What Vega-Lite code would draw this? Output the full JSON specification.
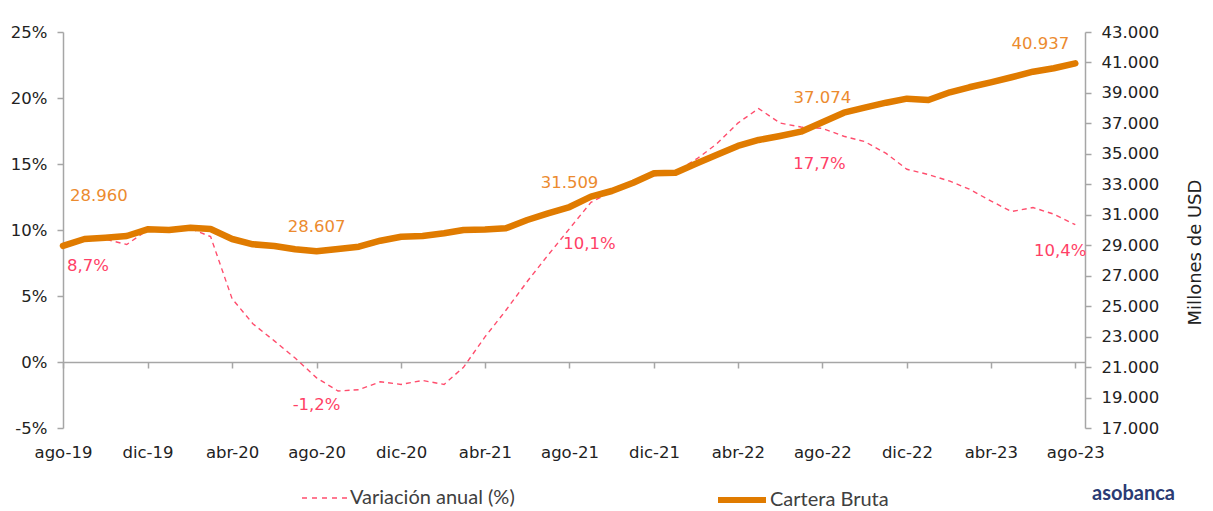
{
  "$schema": "https://vega.github.io/schema/vega-lite/v6.json",
  "width": 1022,
  "height": 396,
  "autosize": {"type": "none"},
  "padding": {"left": 63, "top": 32, "right": 128, "bottom": 83},
  "background": "white",
  "config": {
    "view": {"stroke": null},
    "font": "DejaVu Sans",
    "locale": {
      "number": {"decimal": ",", "thousands": ".", "grouping": [3], "currency": ["$", ""], "minus": "-"},
      "time": {
        "dateTime": "%A, %e de %B de %Y, %X",
        "date": "%d/%m/%Y",
        "time": "%H:%M:%S",
        "periods": ["AM", "PM"],
        "days": ["domingo", "lunes", "martes", "miércoles", "jueves", "viernes", "sábado"],
        "shortDays": ["dom", "lun", "mar", "mié", "jue", "vie", "sáb"],
        "months": ["enero", "febrero", "marzo", "abril", "mayo", "junio", "julio", "agosto", "septiembre", "octubre", "noviembre", "diciembre"],
        "shortMonths": ["ene", "feb", "mar", "abr", "may", "jun", "jul", "ago", "sep", "oct", "nov", "dic"]
      }
    }
  },
  "title": {
    "text": "asobanca",
    "orient": "bottom",
    "anchor": "end",
    "frame": "group",
    "font": "Lato",
    "fontSize": 20,
    "fontWeight": "bold",
    "color": "#2B3B73",
    "dx": 90,
    "dy": -32
  },
  "data": {
    "values": [
      {"fecha": "2019-08-01", "variacion": 0.087, "cartera": 28960},
      {"fecha": "2019-09-01", "variacion": 0.092, "cartera": 29410},
      {"fecha": "2019-10-01", "variacion": 0.093, "cartera": 29495},
      {"fecha": "2019-11-01", "variacion": 0.089, "cartera": 29607},
      {"fecha": "2019-12-01", "variacion": 0.100, "cartera": 30047},
      {"fecha": "2020-01-01", "variacion": 0.100, "cartera": 30001},
      {"fecha": "2020-02-01", "variacion": 0.101, "cartera": 30152},
      {"fecha": "2020-03-01", "variacion": 0.095, "cartera": 30066},
      {"fecha": "2020-04-01", "variacion": 0.048, "cartera": 29410},
      {"fecha": "2020-05-01", "variacion": 0.029, "cartera": 29062},
      {"fecha": "2020-06-01", "variacion": 0.016, "cartera": 28950},
      {"fecha": "2020-07-01", "variacion": 0.003, "cartera": 28733},
      {"fecha": "2020-08-01", "variacion": -0.012, "cartera": 28607},
      {"fecha": "2020-09-01", "variacion": -0.022, "cartera": 28753},
      {"fecha": "2020-10-01", "variacion": -0.021, "cartera": 28904},
      {"fecha": "2020-11-01", "variacion": -0.015, "cartera": 29298},
      {"fecha": "2020-12-01", "variacion": -0.017, "cartera": 29561},
      {"fecha": "2021-01-01", "variacion": -0.014, "cartera": 29607},
      {"fecha": "2021-02-01", "variacion": -0.017, "cartera": 29784},
      {"fecha": "2021-03-01", "variacion": -0.004, "cartera": 30001},
      {"fecha": "2021-04-01", "variacion": 0.019, "cartera": 30030},
      {"fecha": "2021-05-01", "variacion": 0.039, "cartera": 30112},
      {"fecha": "2021-06-01", "variacion": 0.061, "cartera": 30657},
      {"fecha": "2021-07-01", "variacion": 0.081, "cartera": 31097},
      {"fecha": "2021-08-01", "variacion": 0.101, "cartera": 31509},
      {"fecha": "2021-09-01", "variacion": 0.121, "cartera": 32187},
      {"fecha": "2021-10-01", "variacion": 0.129, "cartera": 32561},
      {"fecha": "2021-11-01", "variacion": 0.136, "cartera": 33106},
      {"fecha": "2021-12-01", "variacion": 0.141, "cartera": 33724},
      {"fecha": "2022-01-01", "variacion": 0.144, "cartera": 33763},
      {"fecha": "2022-02-01", "variacion": 0.154, "cartera": 34380},
      {"fecha": "2022-03-01", "variacion": 0.165, "cartera": 34925},
      {"fecha": "2022-04-01", "variacion": 0.181, "cartera": 35516},
      {"fecha": "2022-05-01", "variacion": 0.192, "cartera": 35910},
      {"fecha": "2022-06-01", "variacion": 0.181, "cartera": 36173},
      {"fecha": "2022-07-01", "variacion": 0.178, "cartera": 36455},
      {"fecha": "2022-08-01", "variacion": 0.177, "cartera": 37074},
      {"fecha": "2022-09-01", "variacion": 0.171, "cartera": 37703},
      {"fecha": "2022-10-01", "variacion": 0.167, "cartera": 38031},
      {"fecha": "2022-11-01", "variacion": 0.158, "cartera": 38359},
      {"fecha": "2022-12-01", "variacion": 0.146, "cartera": 38622},
      {"fecha": "2023-01-01", "variacion": 0.142, "cartera": 38536},
      {"fecha": "2023-02-01", "variacion": 0.137, "cartera": 39042},
      {"fecha": "2023-03-01", "variacion": 0.131, "cartera": 39370},
      {"fecha": "2023-04-01", "variacion": 0.122, "cartera": 39698},
      {"fecha": "2023-05-01", "variacion": 0.114, "cartera": 40027},
      {"fecha": "2023-06-01", "variacion": 0.117, "cartera": 40395},
      {"fecha": "2023-07-01", "variacion": 0.112, "cartera": 40618},
      {"fecha": "2023-08-01", "variacion": 0.104, "cartera": 40937}
    ]
  },
  "encoding": {
    "x": {
      "field": "fecha",
      "type": "temporal",
      "scale": {
        "type": "utc",
        "domain": [
          {"year": 2019, "month": 8, "date": 1, "utc": true},
          {"year": 2023, "month": 8, "date": 15, "utc": true}
        ]
      },
      "axis": null
    }
  },
  "layer": [
    {
      "mark": {"type": "line", "strokeWidth": 1.4, "strokeDash": [5, 4]},
      "encoding": {
        "x": {
          "field": "fecha",
          "type": "temporal",
          "axis": {
            "orient": "bottom",
            "offset": -66,
            "values": [
              {"year": 2019, "month": 8, "date": 1, "utc": true},
              {"year": 2019, "month": 12, "date": 1, "utc": true},
              {"year": 2020, "month": 4, "date": 1, "utc": true},
              {"year": 2020, "month": 8, "date": 1, "utc": true},
              {"year": 2020, "month": 12, "date": 1, "utc": true},
              {"year": 2021, "month": 4, "date": 1, "utc": true},
              {"year": 2021, "month": 8, "date": 1, "utc": true},
              {"year": 2021, "month": 12, "date": 1, "utc": true},
              {"year": 2022, "month": 4, "date": 1, "utc": true},
              {"year": 2022, "month": 8, "date": 1, "utc": true},
              {"year": 2022, "month": 12, "date": 1, "utc": true},
              {"year": 2023, "month": 4, "date": 1, "utc": true},
              {"year": 2023, "month": 8, "date": 1, "utc": true}
            ],
            "labels": false,
            "grid": false,
            "title": null,
            "domain": true,
            "domainColor": "#a6a6a6",
            "domainWidth": 1.5,
            "ticks": true,
            "tickSize": 6,
            "tickColor": "#a6a6a6",
            "tickWidth": 1.5
          }
        },
        "y": {
          "field": "variacion",
          "type": "quantitative",
          "scale": {"domain": [-0.05, 0.25], "nice": false, "zero": false},
          "axis": {
            "orient": "left",
            "values": [-0.05, 0, 0.05, 0.1, 0.15, 0.2, 0.25],
            "format": ".0%",
            "grid": false,
            "title": null,
            "domainColor": "#a6a6a6",
            "domainWidth": 1.5,
            "tickColor": "#a6a6a6",
            "tickWidth": 1.5,
            "tickSize": 6,
            "labelPadding": 10,
            "labelFontSize": 16.5,
            "labelColor": "#222222"
          }
        },
        "color": {
          "datum": "Variación anual (%)",
          "scale": {"domain": ["Variación anual (%)"], "range": ["#FF4D6D"]},
          "legend": {
            "orient": "none",
            "legendX": 238,
            "legendY": 441,
            "direction": "horizontal",
            "title": null,
            "symbolType": "stroke",
            "symbolSize": 2304,
            "symbolStrokeWidth": 1.5,
            "labelFont": "Lato",
            "labelFontSize": 20,
            "labelColor": "#404040",
            "labelOffset": -1,
            "labelLimit": 0,
            "encode": {
              "symbols": {
                "update": {
                  "strokeDash": {"value": [5, 5]},
                  "strokeWidth": {"value": 1.5}
                }
              }
            }
          }
        }
      }
    },
    {
      "mark": {"type": "line", "strokeWidth": 6.5, "strokeCap": "round", "strokeJoin": "round"},
      "encoding": {
        "x": {
          "field": "fecha",
          "type": "temporal",
          "axis": {
            "orient": "bottom",
            "values": [
              {"year": 2019, "month": 8, "date": 1, "utc": true},
              {"year": 2019, "month": 12, "date": 1, "utc": true},
              {"year": 2020, "month": 4, "date": 1, "utc": true},
              {"year": 2020, "month": 8, "date": 1, "utc": true},
              {"year": 2020, "month": 12, "date": 1, "utc": true},
              {"year": 2021, "month": 4, "date": 1, "utc": true},
              {"year": 2021, "month": 8, "date": 1, "utc": true},
              {"year": 2021, "month": 12, "date": 1, "utc": true},
              {"year": 2022, "month": 4, "date": 1, "utc": true},
              {"year": 2022, "month": 8, "date": 1, "utc": true},
              {"year": 2022, "month": 12, "date": 1, "utc": true},
              {"year": 2023, "month": 4, "date": 1, "utc": true},
              {"year": 2023, "month": 8, "date": 1, "utc": true}
            ],
            "format": "%b-%y",
            "labelFontSize": 16.5,
            "labelColor": "#222222",
            "labelPadding": 16,
            "labelFlush": false,
            "labelOverlap": false,
            "domain": false,
            "ticks": false,
            "tickSize": 0,
            "grid": false,
            "title": null
          }
        },
        "y": {
          "field": "cartera",
          "type": "quantitative",
          "scale": {"domain": [17000, 43000], "nice": false, "zero": false},
          "axis": {
            "orient": "right",
            "values": [17000, 19000, 21000, 23000, 25000, 27000, 29000, 31000, 33000, 35000, 37000, 39000, 41000, 43000],
            "format": ",.0f",
            "grid": false,
            "title": "Millones de USD",
            "titleFontSize": 18,
            "titleFontWeight": "normal",
            "titleColor": "#222222",
            "titleAngle": 270,
            "titleY": 220,
            "titlePadding": 46,
            "domainColor": "#a6a6a6",
            "domainWidth": 1.5,
            "tickColor": "#a6a6a6",
            "tickWidth": 1.5,
            "tickSize": 6,
            "labelPadding": 10,
            "labelFontSize": 16.5,
            "labelColor": "#222222"
          }
        },
        "color": {
          "datum": "Cartera Bruta",
          "scale": {"domain": ["Cartera Bruta"], "range": ["#E07B00"]},
          "legend": {
            "orient": "none",
            "legendX": 652,
            "legendY": 441,
            "direction": "horizontal",
            "title": null,
            "symbolType": "stroke",
            "symbolSize": 2304,
            "symbolStrokeWidth": 1.5,
            "labelFont": "Lato",
            "labelFontSize": 20,
            "labelColor": "#404040",
            "labelOffset": 1,
            "labelLimit": 0,
            "encode": {
              "symbols": {
                "update": {
                  "strokeDash": {"value": [1, 0]},
                  "strokeWidth": {"value": 6}
                }
              }
            }
          }
        }
      }
    },
    {
      "transform": [{"filter": "(utcyear(toDate(datum.fecha)) == 2020 || utcyear(toDate(datum.fecha)) == 2021 || utcyear(toDate(datum.fecha)) == 2022) && utcmonth(toDate(datum.fecha)) == 7"}],
      "mark": {"type": "text", "color": "#EC8B2F", "fontSize": 16.5, "align": "center", "baseline": "middle", "dy": -24},
      "encoding": {
        "y": {"field": "cartera", "type": "quantitative", "scale": {"domain": [17000, 43000], "nice": false, "zero": false}, "axis": null},
        "text": {"field": "cartera", "type": "quantitative", "format": ","}
      }
    },
    {
      "transform": [{"filter": "utcyear(toDate(datum.fecha)) == 2019 && utcmonth(toDate(datum.fecha)) == 7"}],
      "mark": {"type": "text", "color": "#EC8B2F", "fontSize": 16.5, "align": "left", "baseline": "middle", "dx": 7, "dy": -50},
      "encoding": {
        "y": {"field": "cartera", "type": "quantitative", "scale": {"domain": [17000, 43000], "nice": false, "zero": false}, "axis": null},
        "text": {"field": "cartera", "type": "quantitative", "format": ","}
      }
    },
    {
      "transform": [{"filter": "utcyear(toDate(datum.fecha)) == 2023 && utcmonth(toDate(datum.fecha)) == 7"}],
      "mark": {"type": "text", "color": "#EC8B2F", "fontSize": 16.5, "align": "center", "baseline": "middle", "dx": -35, "dy": -19},
      "encoding": {
        "y": {"field": "cartera", "type": "quantitative", "scale": {"domain": [17000, 43000], "nice": false, "zero": false}, "axis": null},
        "text": {"field": "cartera", "type": "quantitative", "format": ","}
      }
    },
    {
      "transform": [{"filter": "utcyear(toDate(datum.fecha)) == 2020 && utcmonth(toDate(datum.fecha)) == 7"}],
      "mark": {"type": "text", "color": "#FF3F66", "fontSize": 16.5, "align": "center", "baseline": "middle", "dy": 27},
      "encoding": {
        "y": {"field": "variacion", "type": "quantitative", "scale": {"domain": [-0.05, 0.25], "nice": false, "zero": false}, "axis": null},
        "text": {"field": "variacion", "type": "quantitative", "format": ".1%"}
      }
    },
    {
      "transform": [{"filter": "utcyear(toDate(datum.fecha)) == 2021 && utcmonth(toDate(datum.fecha)) == 7"}],
      "mark": {"type": "text", "color": "#FF3F66", "fontSize": 16.5, "align": "center", "baseline": "middle", "dx": 20, "dy": 15},
      "encoding": {
        "y": {"field": "variacion", "type": "quantitative", "scale": {"domain": [-0.05, 0.25], "nice": false, "zero": false}, "axis": null},
        "text": {"field": "variacion", "type": "quantitative", "format": ".1%"}
      }
    },
    {
      "transform": [{"filter": "utcyear(toDate(datum.fecha)) == 2022 && utcmonth(toDate(datum.fecha)) == 7"}],
      "mark": {"type": "text", "color": "#FF3F66", "fontSize": 16.5, "align": "center", "baseline": "middle", "dx": -3, "dy": 36},
      "encoding": {
        "y": {"field": "variacion", "type": "quantitative", "scale": {"domain": [-0.05, 0.25], "nice": false, "zero": false}, "axis": null},
        "text": {"field": "variacion", "type": "quantitative", "format": ".1%"}
      }
    },
    {
      "transform": [{"filter": "utcyear(toDate(datum.fecha)) == 2019 && utcmonth(toDate(datum.fecha)) == 7"}],
      "mark": {"type": "text", "color": "#FF3F66", "fontSize": 16.5, "align": "left", "baseline": "middle", "dx": 4, "dy": 19},
      "encoding": {
        "y": {"field": "variacion", "type": "quantitative", "scale": {"domain": [-0.05, 0.25], "nice": false, "zero": false}, "axis": null},
        "text": {"field": "variacion", "type": "quantitative", "format": ".1%"}
      }
    },
    {
      "transform": [{"filter": "utcyear(toDate(datum.fecha)) == 2023 && utcmonth(toDate(datum.fecha)) == 7"}],
      "mark": {"type": "text", "color": "#FF3F66", "fontSize": 16.5, "align": "center", "baseline": "middle", "dx": -15, "dy": 26},
      "encoding": {
        "y": {"field": "variacion", "type": "quantitative", "scale": {"domain": [-0.05, 0.25], "nice": false, "zero": false}, "axis": null},
        "text": {"field": "variacion", "type": "quantitative", "format": ".1%"}
      }
    }
  ],
  "resolve": {"scale": {"y": "independent", "color": "independent"}, "axis": {"x": "independent", "y": "independent"}}
}
